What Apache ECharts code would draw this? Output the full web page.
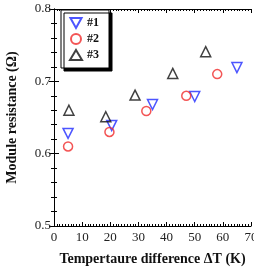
<!DOCTYPE html>
<html>
<head>
<meta charset="utf-8">
<script src="https://cdn.jsdelivr.net/npm/echarts@6/dist/echarts.min.js"></script>
<style>
  html, body { margin: 0; padding: 0; background: #fff; }
  #chart { width: 254px; height: 269px; }
</style>
</head>
<body>
<div id="chart"></div>
<script>
// data: [deltaT (K), resistance (ohm)]
const sample1 = [[5, 0.628], [20.5, 0.639], [35, 0.668], [50, 0.679], [65, 0.719]];
const sample2 = [[5, 0.61], [19.7, 0.63], [32.8, 0.659], [47, 0.68], [58, 0.71]];
const sample3 = [[5.3, 0.66], [18.4, 0.651], [28.8, 0.681], [42.2, 0.711], [53.9, 0.741]];
const seriesNames = ["#1", "#2", "#3"];
const xTicks = [0, 10, 20, 30, 40, 50, 60, 70];

const serif = "'Liberation Serif', 'DejaVu Serif', serif";
const downTriangle = "path://M0,0 L10,0 L5,9 Z";

const chart = echarts.init(document.getElementById("chart"), null, { renderer: "canvas" });

const frameAxis = {
  axisLine: { show: true, lineStyle: { color: "#000", width: 1 } },
  splitLine: { show: false },
};

const option = {
  animation: false,
  grid: { left: 54, right: 3, top: 9, bottom: 43, outerBoundsMode: "none" },
  legend: {
    orient: "vertical",
    left: 61,
    top: 10,
    padding: [7, 10, 7, 8],
    itemGap: 4,
    itemWidth: 12,
    itemHeight: 10,
    backgroundColor: "#fff",
    borderColor: "#000",
    borderWidth: 1,
    shadowColor: "#000",
    shadowOffsetX: 3,
    shadowOffsetY: 3,
    shadowBlur: 0,
    textStyle: { fontFamily: serif, fontWeight: "bold", fontSize: 12, color: "#111" },
    data: [
      { name: seriesNames[0], icon: downTriangle },
      { name: seriesNames[1] },
      { name: seriesNames[2] },
    ],
  },
  xAxis: [
    {
      type: "value",
      position: "bottom",
      min: xTicks[0],
      max: xTicks[xTicks.length - 1],
      interval: 10,
      ...frameAxis,
      axisTick: { inside: true, length: 4, lineStyle: { color: "#000" } },
      minorTick: { show: true, splitNumber: 10, length: 2, lineStyle: { color: "#000" } },
      axisLabel: {
        show: true, fontFamily: serif, fontSize: 13, color: "#222", margin: 5,
        showMinLabel: true, showMaxLabel: true, hideOverlap: false,
      },
      name: "Tempertaure difference \u0394T (K)",
      nameLocation: "middle",
      nameGap: 26,
      nameMoveOverlap: false,
      nameTextStyle: { fontFamily: serif, fontWeight: "bold", fontSize: 14, color: "#111" },
    },
    {
      type: "value",
      position: "top",
      min: xTicks[0],
      max: xTicks[xTicks.length - 1],
      interval: 10,
      ...frameAxis,
      axisTick: { inside: true, length: 4, lineStyle: { color: "#000" } },
      minorTick: { show: true, splitNumber: 10, length: 2, lineStyle: { color: "#000" } },
      axisLabel: { show: false },
    },
  ],
  yAxis: [
    {
      type: "value",
      min: 0.5,
      max: 0.8,
      interval: 0.1,
      ...frameAxis,
      axisTick: { inside: true, length: 5, lineStyle: { color: "#000" } },
      minorTick: { show: true, splitNumber: 5, length: 3, lineStyle: { color: "#000" } },
      axisLabel: {
        fontFamily: serif, fontSize: 13, color: "#222", margin: 3,
        formatter: (v) => v.toFixed(1),
      },
      name: "Module resistance (\u03A9)",
      nameLocation: "middle",
      nameGap: 35,
      nameMoveOverlap: false,
      nameTextStyle: { fontFamily: serif, fontWeight: "bold", fontSize: 14, color: "#111" },
    },
    {
      type: "value",
      position: "right",
      min: 0.5,
      max: 0.8,
      interval: 0.1,
      ...frameAxis,
      axisTick: { inside: true, length: 5, lineStyle: { color: "#000" } },
      minorTick: { show: true, splitNumber: 5, length: 3, lineStyle: { color: "#000" } },
      axisLabel: { show: false },
    },
  ],
  series: [
    {
      name: seriesNames[0],
      type: "scatter",
      data: sample1,
      symbol: "triangle",
      symbolRotate: 180,
      symbolSize: 10,
      itemStyle: { color: "transparent", borderColor: "#1f2bff", borderWidth: 1.5 },
    },
    {
      name: seriesNames[1],
      type: "scatter",
      data: sample2,
      symbol: "circle",
      symbolSize: 9,
      itemStyle: { color: "transparent", borderColor: "#f02a2a", borderWidth: 1.5 },
    },
    {
      name: seriesNames[2],
      type: "scatter",
      data: sample3,
      symbol: "triangle",
      symbolSize: 10,
      itemStyle: { color: "transparent", borderColor: "#111", borderWidth: 1.5 },
    },
  ],
};

chart.setOption(option);
</script>
</body>
</html>
